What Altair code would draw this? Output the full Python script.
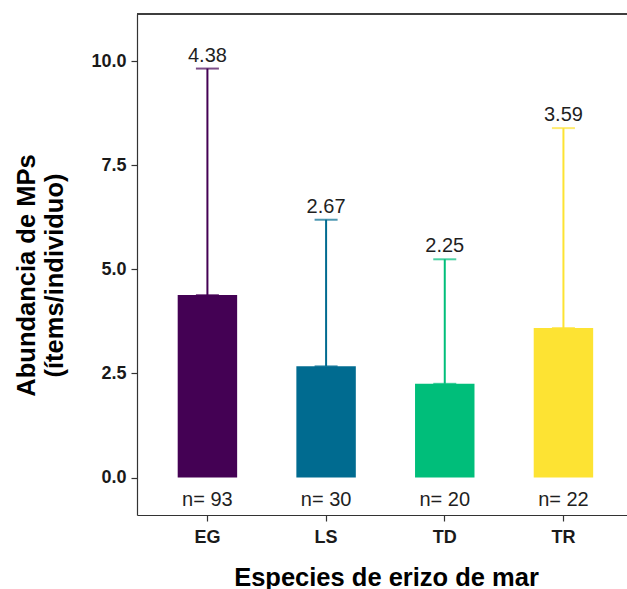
import altair as alt
import pandas as pd

# Sea urchin species and microplastic abundance summary
species = ["EG", "LS", "TD", "TR"]
mean_abundance = [4.38, 2.67, 2.25, 3.59]
upper_limit = [9.82, 6.19, 5.24, 8.39]
sample_size = [93, 30, 20, 22]
bar_colors = ["#440154", "#006B90", "#00BE7A", "#FDE333"]
y_ticks = [0.0, 2.5, 5.0, 7.5, 10.0]

df = pd.DataFrame({
    "especie": species,
    "media": mean_abundance,
    "sup": upper_limit,
    "n": sample_size,
})
df["etiqueta_n"] = ["n= " + str(v) for v in sample_size]

W, H = 490, 501
FONT = "Liberation Sans"
Y_TITLE = ["Abundancia de MPs", "(ítems/individuo)"]
N_LABEL_Y = -0.53

x_enc = alt.X(
    "especie:N",
    sort=species,
    title="Especies de erizo de mar",
    scale=alt.Scale(paddingInner=0.499, paddingOuter=0.314, align=0.546),
    axis=alt.Axis(labelAngle=0, labelBaseline="alphabetic", labelPadding=21,
                  titleX=249, titleY=70, titleBaseline="alphabetic"),
)
y_scale = alt.Scale(domain=[-0.9, 11.13], nice=False, zero=False)
y_axis = alt.Axis(values=y_ticks, format=".1f", titleX=-111, titleY=261,
                  titleBaseline="middle", titleAlign="center",
                  titleLineHeight=28, labelPadding=5)
color_enc = alt.Color("especie:N", scale=alt.Scale(domain=species, range=bar_colors),
                      legend=None)

base = alt.Chart(df)

bars = base.mark_bar().encode(
    x=x_enc,
    y=alt.Y("media:Q", scale=y_scale, axis=y_axis, title=Y_TITLE),
    y2=alt.datum(0),
    color=color_enc,
)

whiskers = base.mark_rule(strokeWidth=2).encode(
    x=x_enc,
    y=alt.Y("media:Q", scale=y_scale, title=Y_TITLE),
    y2="sup:Q",
    color=color_enc,
)

caps_top = base.mark_tick(size=23, thickness=2).encode(
    x=x_enc,
    y=alt.Y("sup:Q", scale=y_scale, title=Y_TITLE),
    color=color_enc,
)

caps_mean = base.mark_tick(size=23, thickness=2).encode(
    x=x_enc,
    y=alt.Y("media:Q", scale=y_scale, title=Y_TITLE),
    color=color_enc,
)

value_labels = base.mark_text(
    baseline="bottom", dy=-3, fontSize=20, font=FONT, color="#1f1f1f"
).encode(
    x=x_enc,
    y=alt.Y("sup:Q", scale=y_scale, title=Y_TITLE),
    text=alt.Text("media:Q", format=".2f"),
)

n_labels = base.mark_text(
    baseline="middle", fontSize=20, font=FONT, color="#1f1f1f"
).encode(
    x=x_enc,
    y=alt.datum(N_LABEL_Y, scale=y_scale, title=Y_TITLE),
    text="etiqueta_n:N",
)

# top edge of the panel frame
top_edge = alt.Chart(df).mark_rule(color="#333333", strokeWidth=1.2).encode(
    x=alt.value(0), x2=alt.value(W + 10), y=alt.value(0)
)

chart = alt.layer(
    bars, whiskers, caps_top, caps_mean, value_labels, n_labels, top_edge
).properties(
    width=W, height=H,
    autosize=alt.AutoSizeParams(type="none"),
    padding={"left": 137, "top": 14, "right": 0, "bottom": 74},
    background="white",
).configure_view(
    stroke=None
).configure_axis(
    grid=False,
    domainColor="#333333",
    domainWidth=1.2,
    tickColor="#333333",
    tickSize=6,
    tickWidth=1.2,
    labelFont=FONT,
    labelFontWeight="bold",
    labelFontSize=18,
    labelColor="#1a1a1a",
    titleFont=FONT,
    titleFontWeight="bold",
    titleFontSize=25.5,
    titleColor="#000000",
)

chart.save("out.html", embed_options={"renderer": "svg", "actions": False})
